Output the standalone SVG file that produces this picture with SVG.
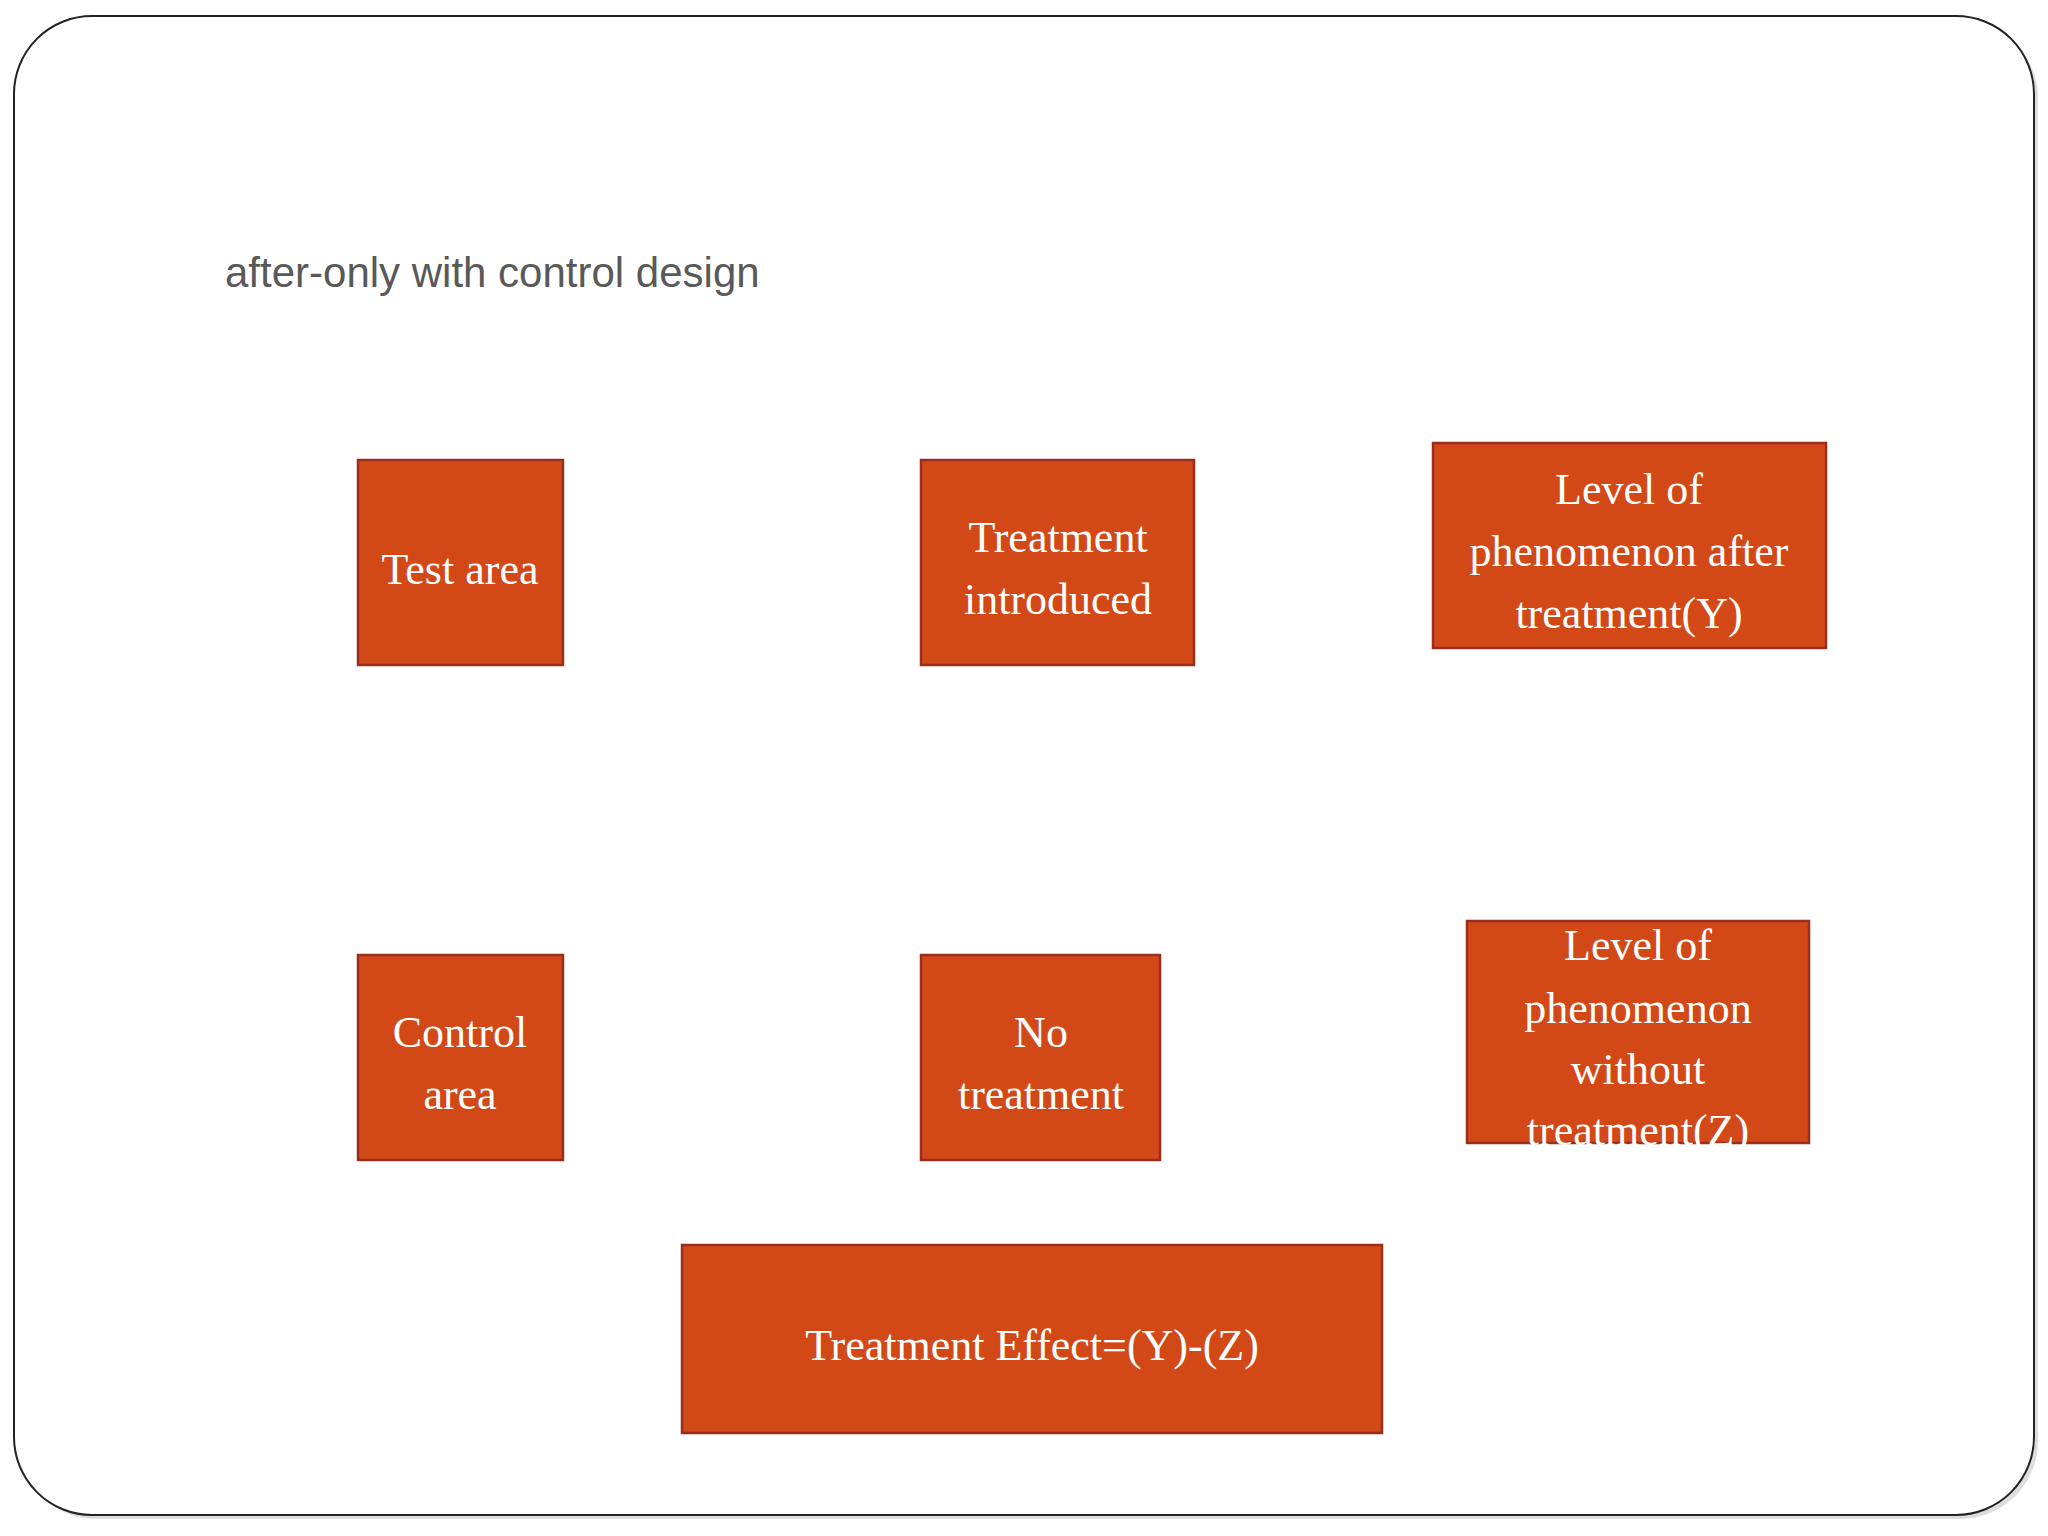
<svg xmlns="http://www.w3.org/2000/svg" width="2048" height="1536" viewBox="0 0 2048 1536">
<style>
.b{fill:#D34817;stroke:#9B2D1F;stroke-width:2.5}
.t{font-family:"Liberation Serif",serif;font-size:44px;fill:#fff;text-anchor:middle}
</style>
<rect width="2048" height="1536" fill="#fff"/>
<rect x="18" y="20" width="2020" height="1499" rx="78" fill="#ddd"/>
<rect x="14" y="16" width="2020" height="1499" rx="78" fill="#fff" stroke="#222" stroke-width="2"/>
<text x="225" y="287" font-family="Liberation Sans,sans-serif" font-size="42" fill="#595959">after-only with control design</text>
<g id="test"><rect class="b" x="358" y="460" width="205" height="205"/><text class="t" x="460" y="584">Test area</text></g>
<g id="treat"><rect class="b" x="921" y="460" width="273" height="205"/><text class="t" x="1058" y="552">Treatment</text><text class="t" x="1058" y="614">introduced</text></g>
<g id="levely"><rect class="b" x="1433" y="443" width="393" height="205"/><text class="t" x="1629" y="504">Level of</text><text class="t" x="1629" y="566">phenomenon after</text><text class="t" x="1629" y="628">treatment(Y)</text></g>
<g id="control"><rect class="b" x="358" y="955" width="205" height="205"/><text class="t" x="460" y="1047">Control</text><text class="t" x="460" y="1109">area</text></g>
<g id="notreat"><rect class="b" x="921" y="955" width="239" height="205"/><text class="t" x="1041" y="1047">No</text><text class="t" x="1041" y="1109">treatment</text></g>
<g id="levelz"><rect class="b" x="1467" y="921" width="342" height="222"/><text class="t" x="1638" y="960">Level of</text><text class="t" x="1638" y="1023">phenomenon</text><text class="t" x="1638" y="1084">without</text><text class="t" x="1638" y="1145">treatment(Z)</text></g>
<g id="effect"><rect class="b" x="682" y="1245" width="700" height="188"/><text class="t" x="1032" y="1360">Treatment Effect=(Y)-(Z)</text></g>
<g id="connectors"/>
</svg>
